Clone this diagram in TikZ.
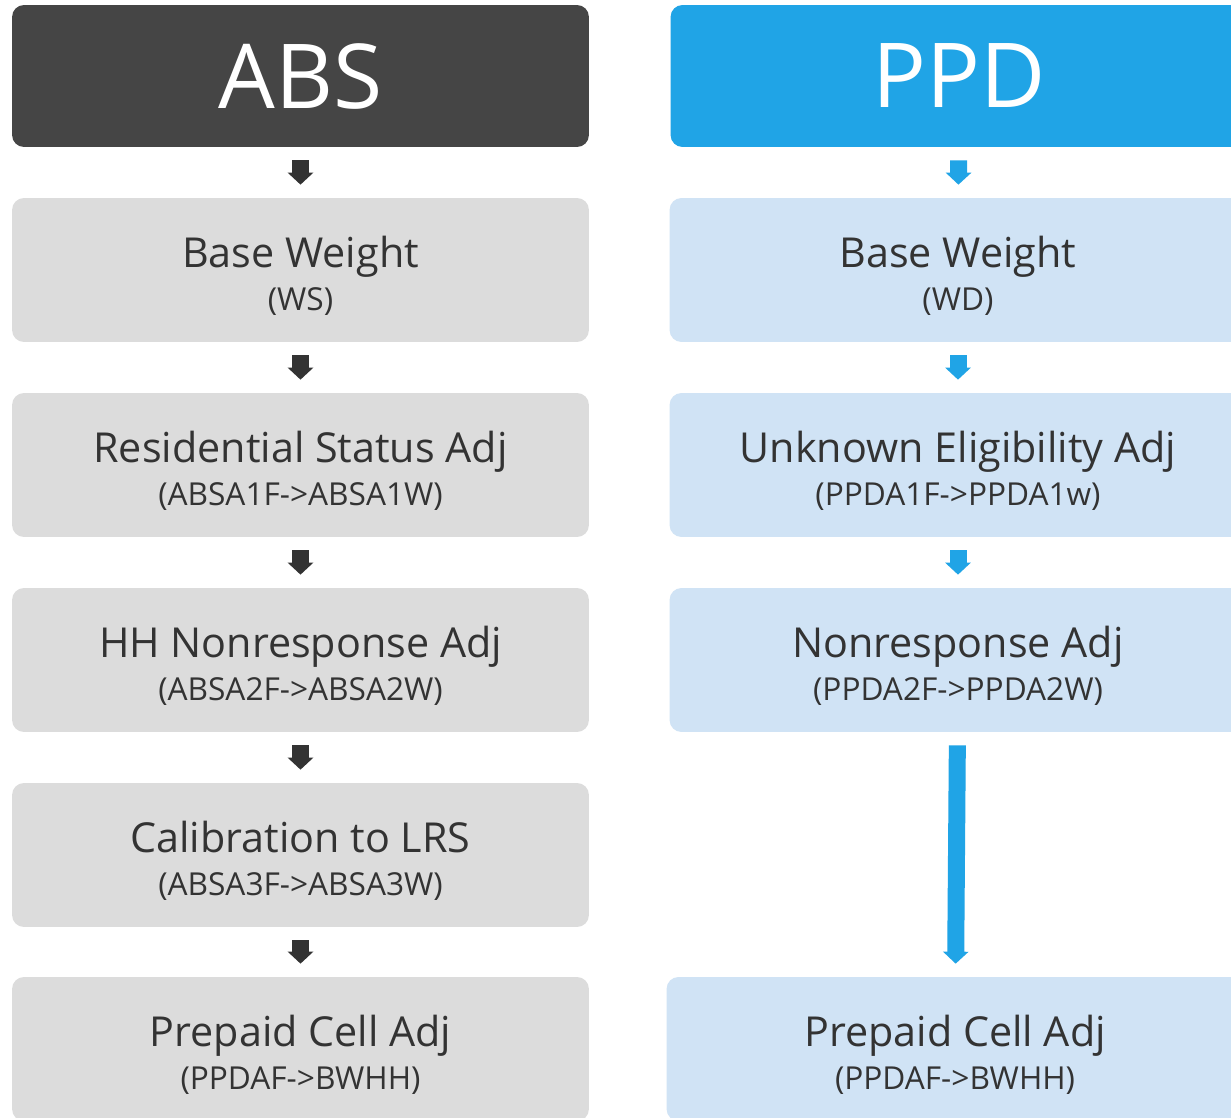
\documentclass[tikz,border=0pt]{standalone}
\usepackage{fontspec}
\setmainfont{Open Sans}
\usetikzlibrary{arrows.meta}
\definecolor{absdark}{HTML}{454545}
\definecolor{absgray}{HTML}{DCDCDC}
\definecolor{abstip}{HTML}{333333}
\definecolor{ppdblue}{HTML}{20A4E6}
\definecolor{ppdlight}{HTML}{D0E3F5}
\definecolor{txtgray}{HTML}{333333}
\newcommand{\twol}[2]{\rule{0pt}{24pt}#1\\{\fontsize{18}{24.5}\selectfont #2}}
\tikzset{
  headbox/.style={rounded corners=0.24cm, minimum width=11.54cm, minimum height=2.84cm,
    inner sep=0pt, text=white, font=\fontsize{51}{51}\selectfont},
  stepbox/.style={rounded corners=0.24cm, minimum width=11.54cm, minimum height=2.88cm,
    inner sep=0pt, align=center, text=txtgray, font=\fontsize{23.5}{24.5}\selectfont},
  blk/.style={line width=0.34cm, shorten <=0.26cm, shorten >=0.26cm,
    -{Triangle[length=0.24cm,width=0.5cm]}}
}
\begin{document}
\begin{tikzpicture}[x=0.02cm,y=-0.02cm]
\clip (0,0) rectangle (1231,1118);
\fill[white] (0,0) rectangle (1231,1118);
% ABS column
\node[headbox,fill=absdark] (a0) at (300.5,76) {ABS};
\node[stepbox,fill=absgray] (a1) at (300.5,270) {\twol{Base Weight}{(WS)}};
\node[stepbox,fill=absgray] (a2) at (300.5,465) {\twol{Residential Status Adj}{(ABSA1F->ABSA1W)}};
\node[stepbox,fill=absgray] (a3) at (300.5,660) {\twol{HH Nonresponse Adj}{(ABSA2F->ABSA2W)}};
\node[stepbox,fill=absgray] (a4) at (300.5,855) {\twol{Calibration to LRS}{(ABSA3F->ABSA3W)}};
\node[stepbox,fill=absgray] (a5) at (300.5,1049) {\twol{Prepaid Cell Adj}{(PPDAF->BWHH)}};
% PPD column
\node[headbox,fill=ppdblue] (p0) at (959,76) {PPD};
\node[stepbox,fill=ppdlight] (p1) at (958,270) {\twol{Base Weight}{(WD)}};
\node[stepbox,fill=ppdlight] (p2) at (958,465) {\twol{Unknown Eligibility Adj}{(PPDA1F->PPDA1w)}};
\node[stepbox,fill=ppdlight] (p3) at (958,660) {\twol{Nonresponse Adj}{(PPDA2F->PPDA2W)}};
\node[stepbox,fill=ppdlight] (p4) at (955,1049) {\twol{Prepaid Cell Adj}{(PPDAF->BWHH)}};
% arrows
\foreach \s/\t in {a0/a1,a1/a2,a2/a3,a3/a4,a4/a5}
  \draw[blk,abstip] (\s) -- (\t);
\foreach \s/\t in {p0/p1,p1/p2,p2/p3,p3/p4}
  \draw[blk,ppdblue] (\s) -- (\t);
\end{tikzpicture}
\end{document}
